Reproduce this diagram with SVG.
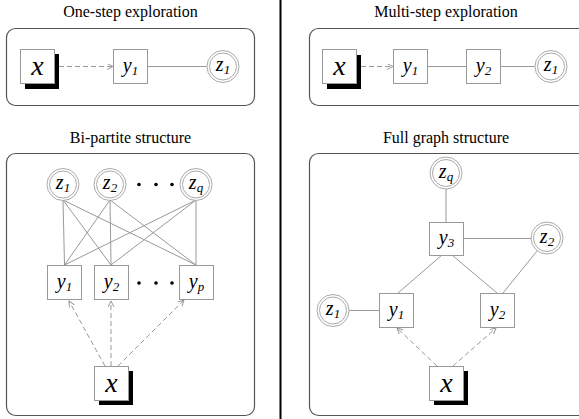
<svg xmlns="http://www.w3.org/2000/svg" width="579" height="419" viewBox="0 0 579 419">
<defs>
<marker id="arr" markerWidth="8" markerHeight="8" refX="6" refY="3" orient="auto" markerUnits="userSpaceOnUse">
<path d="M0,0 L6,3 L0,6" fill="none" stroke="#999" stroke-width="1"/>
</marker>
<style>
.title{font-family:"Liberation Serif",serif;font-size:16px;fill:#000;text-anchor:middle}
.panel{fill:none;stroke:#555;stroke-width:1.2}
.sq{fill:#fff;stroke:#999;stroke-width:1}
.shadow{fill:#000}
.co{fill:#fff;stroke:#aaa;stroke-width:1}
.ci{fill:none;stroke:#aaa;stroke-width:1}
.lbl{font-family:"Liberation Serif",serif;font-style:italic;font-size:20px;fill:#000;text-anchor:middle}
.xl{font-family:"Liberation Serif",serif;font-style:italic;font-size:28px;fill:#000;text-anchor:middle}
.sub{font-size:13px}
.edge{stroke:#999;stroke-width:1;fill:none}
.dash{stroke:#999;stroke-width:1;fill:none;stroke-dasharray:5,3;marker-end:url(#arr)}
.dot{fill:#000}
</style>
</defs>

<line x1="280.5" y1="0" x2="280.5" y2="419" stroke="#000" stroke-width="2"/>

<text class="title" x="130.5" y="16.5">One-step exploration</text>
<text class="title" x="446" y="16.5">Multi-step exploration</text>
<text class="title" x="130.5" y="143">Bi-partite structure</text>
<text class="title" x="446" y="143">Full graph structure</text>

<rect class="panel" x="6.5" y="28.5" width="248" height="77" rx="9"/>
<rect class="panel" x="309.5" y="28.5" width="290" height="77" rx="9"/>
<rect class="panel" x="6.5" y="153.5" width="248" height="262" rx="9"/>
<rect class="panel" x="309.5" y="153.5" width="290" height="262" rx="9"/>

<g id="connectors">
<line class="dash" x1="59" y1="66.5" x2="113" y2="66.5"/>
<line class="edge" x1="147" y1="66.5" x2="207" y2="66.5"/>
<line class="dash" x1="361" y1="66.5" x2="393" y2="66.5"/>
<line class="edge" x1="427" y1="66.5" x2="466" y2="66.5"/>
<line class="edge" x1="500" y1="66.5" x2="535" y2="66.5"/>
<line class="edge" x1="63" y1="200" x2="64.5" y2="265"/>
<line class="edge" x1="63" y1="200" x2="111" y2="265"/>
<line class="edge" x1="63" y1="200" x2="196" y2="265"/>
<line class="edge" x1="110" y1="200" x2="64.5" y2="265"/>
<line class="edge" x1="110" y1="200" x2="111" y2="265"/>
<line class="edge" x1="110" y1="200" x2="196" y2="265"/>
<line class="edge" x1="196" y1="200" x2="64.5" y2="265"/>
<line class="edge" x1="196" y1="200" x2="111" y2="265"/>
<line class="edge" x1="196" y1="200" x2="196" y2="265"/>
<line class="dash" x1="105" y1="366" x2="69" y2="301"/>
<line class="dash" x1="111" y1="366" x2="111" y2="301"/>
<line class="dash" x1="118" y1="366" x2="184" y2="300"/>
<line class="edge" x1="446" y1="189" x2="446" y2="222"/>
<line class="edge" x1="463" y1="238.5" x2="531" y2="238.5"/>
<line class="edge" x1="442" y1="255" x2="398" y2="293"/>
<line class="edge" x1="452" y1="255" x2="497" y2="293"/>
<line class="edge" x1="537" y1="251" x2="503" y2="293"/>
<line class="edge" x1="349" y1="310.5" x2="379" y2="310.5"/>
<line class="dash" x1="437" y1="366" x2="397" y2="328"/>
<line class="dash" x1="453" y1="366" x2="496" y2="328"/>
</g>

<g id="A_x"><rect class="shadow" x="25" y="54" width="34" height="35"/><rect class="sq" x="20.5" y="49.5" width="34" height="34"/><text class="xl" x="37.5" y="75">x</text></g>
<g id="A_y1"><rect class="sq" x="113.5" y="49.5" width="34" height="34"/><text class="lbl" x="130.5" y="72">y<tspan class="sub" dy="3">1</tspan></text></g>
<g id="A_z1"><circle class="co" cx="223" cy="66.5" r="16"/><circle class="ci" cx="223" cy="66.5" r="13.5"/><text class="lbl" x="223" y="71">z<tspan class="sub" dy="3">1</tspan></text></g>

<g id="B_x"><rect class="shadow" x="327" y="55" width="34" height="34"/><rect class="sq" x="322.5" y="49.5" width="34" height="34"/><text class="xl" x="339.5" y="75">x</text></g>
<g id="B_y1"><rect class="sq" x="393.5" y="49.5" width="34" height="34"/><text class="lbl" x="410.5" y="72">y<tspan class="sub" dy="3">1</tspan></text></g>
<g id="B_y2"><rect class="sq" x="466.5" y="49.5" width="34" height="34"/><text class="lbl" x="483.5" y="72">y<tspan class="sub" dy="3">2</tspan></text></g>
<g id="B_z1"><circle class="co" cx="551" cy="66.5" r="16"/><circle class="ci" cx="551" cy="66.5" r="13.5"/><text class="lbl" x="551" y="71">z<tspan class="sub" dy="3">1</tspan></text></g>

<g id="C_z1"><circle class="co" cx="63" cy="184.5" r="16"/><circle class="ci" cx="63" cy="184.5" r="13.5"/><text class="lbl" x="63" y="189">z<tspan class="sub" dy="3">1</tspan></text></g>
<g id="C_z2"><circle class="co" cx="110" cy="184.5" r="16"/><circle class="ci" cx="110" cy="184.5" r="13.5"/><text class="lbl" x="110" y="189">z<tspan class="sub" dy="3">2</tspan></text></g>
<g id="C_zq"><circle class="co" cx="196" cy="184.5" r="16"/><circle class="ci" cx="196" cy="184.5" r="13.5"/><text class="lbl" x="196" y="189">z<tspan class="sub" dy="3">q</tspan></text></g>
<g id="C_dots_z"><circle class="dot" cx="139" cy="184.5" r="1.8"/><circle class="dot" cx="156" cy="184.5" r="1.8"/><circle class="dot" cx="172" cy="184.5" r="1.8"/></g>
<g id="C_y1"><rect class="sq" x="47.5" y="265.5" width="34" height="34"/><text class="lbl" x="64.5" y="288">y<tspan class="sub" dy="3">1</tspan></text></g>
<g id="C_y2"><rect class="sq" x="94.5" y="265.5" width="34" height="34"/><text class="lbl" x="111.5" y="288">y<tspan class="sub" dy="3">2</tspan></text></g>
<g id="C_yp"><rect class="sq" x="179.5" y="265.5" width="34" height="34"/><text class="lbl" x="196.5" y="288">y<tspan class="sub" dy="3">p</tspan></text></g>
<g id="C_dots_y"><circle class="dot" cx="139" cy="283" r="1.8"/><circle class="dot" cx="156" cy="283" r="1.8"/><circle class="dot" cx="172" cy="283" r="1.8"/></g>
<g id="C_x"><rect class="shadow" x="99" y="371" width="34" height="34"/><rect class="sq" x="94.5" y="366.5" width="34" height="34"/><text class="xl" x="111.5" y="392">x</text></g>

<g id="D_zq"><circle class="co" cx="446" cy="173" r="16"/><circle class="ci" cx="446" cy="173" r="13.5"/><text class="lbl" x="446" y="177.5">z<tspan class="sub" dy="3">q</tspan></text></g>
<g id="D_y3"><rect class="sq" x="429.5" y="222.5" width="34" height="33"/><text class="lbl" x="446.5" y="244">y<tspan class="sub" dy="3">3</tspan></text></g>
<g id="D_z2"><circle class="co" cx="547" cy="238" r="16"/><circle class="ci" cx="547" cy="238" r="13.5"/><text class="lbl" x="547" y="242.5">z<tspan class="sub" dy="3">2</tspan></text></g>
<g id="D_z1"><circle class="co" cx="333" cy="310.5" r="16"/><circle class="ci" cx="333" cy="310.5" r="13.5"/><text class="lbl" x="333" y="315">z<tspan class="sub" dy="3">1</tspan></text></g>
<g id="D_y1"><rect class="sq" x="379.5" y="293.5" width="34" height="34"/><text class="lbl" x="396.5" y="316">y<tspan class="sub" dy="3">1</tspan></text></g>
<g id="D_y2"><rect class="sq" x="480.5" y="293.5" width="34" height="34"/><text class="lbl" x="497.5" y="316">y<tspan class="sub" dy="3">2</tspan></text></g>
<g id="D_x"><rect class="shadow" x="434" y="371" width="34" height="34"/><rect class="sq" x="429.5" y="366.5" width="34" height="34"/><text class="xl" x="446.5" y="392">x</text></g>
</svg>
